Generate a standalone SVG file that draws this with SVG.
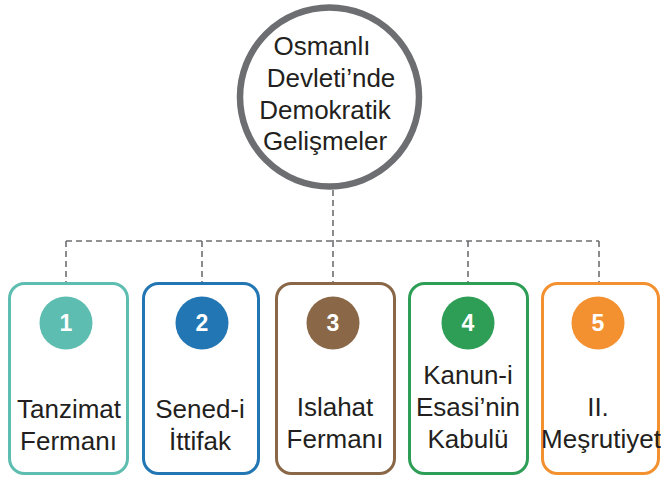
<svg xmlns="http://www.w3.org/2000/svg" width="661" height="477" viewBox="0 0 661 477">
<style>
.lbl{font-family:"Liberation Sans",Arial,sans-serif;font-size:26px;fill:#231f20;text-anchor:middle}
.num{font-family:"Liberation Sans",Arial,sans-serif;font-size:23px;font-weight:bold;fill:#fff;text-anchor:middle}
.box{fill:#fff;stroke-width:3}
.conn{fill:none;stroke:#6d6e71;stroke-width:1.6;stroke-dasharray:6 4}
</style>
<rect width="661" height="477" fill="#fff"/>
<g id="connectors">
<path class="conn" d="M333 190V241M66 241H599M66 241V282M202 241V282M333 241V282M468 241V282M599 241V282"/>
</g>
<g id="root">
<circle cx="329.5" cy="97" r="89.5" fill="#fff" stroke="#6d6e71" stroke-width="6.5"/>
<text class="lbl" x="322" y="55">Osmanlı</text>
<text class="lbl" x="331" y="87">Devleti’nde</text>
<text class="lbl" x="325" y="119">Demokratik</text>
<text class="lbl" x="325" y="150">Gelişmeler</text>
</g>
<g id="n1">
<rect class="box" x="9.5" y="283.5" width="118" height="190" rx="15" stroke="#5dbdb0"/>
<circle cx="66" cy="323" r="26.5" fill="#5dbdb0"/>
<text class="num" x="66" y="331">1</text>
<text class="lbl" x="69" y="418">Tanzimat</text>
<text class="lbl" x="68.5" y="450">Fermanı</text>
</g>
<g id="n2">
<rect class="box" x="143.5" y="283.5" width="115" height="190" rx="15" stroke="#2276b4"/>
<circle cx="202" cy="323" r="26.5" fill="#2276b4"/>
<text class="num" x="202" y="331">2</text>
<text class="lbl" x="200" y="418">Sened-i</text>
<text class="lbl" x="200" y="450">İttifak</text>
</g>
<g id="n3">
<rect class="box" x="276.5" y="283.5" width="118" height="190" rx="15" stroke="#8a6746"/>
<circle cx="333" cy="323" r="26.5" fill="#8a6746"/>
<text class="num" x="333" y="331">3</text>
<text class="lbl" x="335" y="416">Islahat</text>
<text class="lbl" x="335" y="448">Fermanı</text>
</g>
<g id="n4">
<rect class="box" x="409.5" y="283.5" width="118" height="190" rx="15" stroke="#2e9e57"/>
<circle cx="468" cy="323" r="26.5" fill="#2e9e57"/>
<text class="num" x="468" y="331">4</text>
<text class="lbl" x="468" y="384">Kanun-i</text>
<text class="lbl" x="468" y="416">Esasi’nin</text>
<text class="lbl" x="468" y="448">Kabulü</text>
</g>
<g id="n5">
<rect class="box" x="542.5" y="283.5" width="116" height="190" rx="15" stroke="#f39130"/>
<circle cx="598" cy="323" r="26.5" fill="#f39130"/>
<text class="num" x="598" y="331">5</text>
<text class="lbl" x="598" y="416">II.</text>
<text class="lbl" x="601" y="448">Meşrutiyet</text>
</g>
</svg>
